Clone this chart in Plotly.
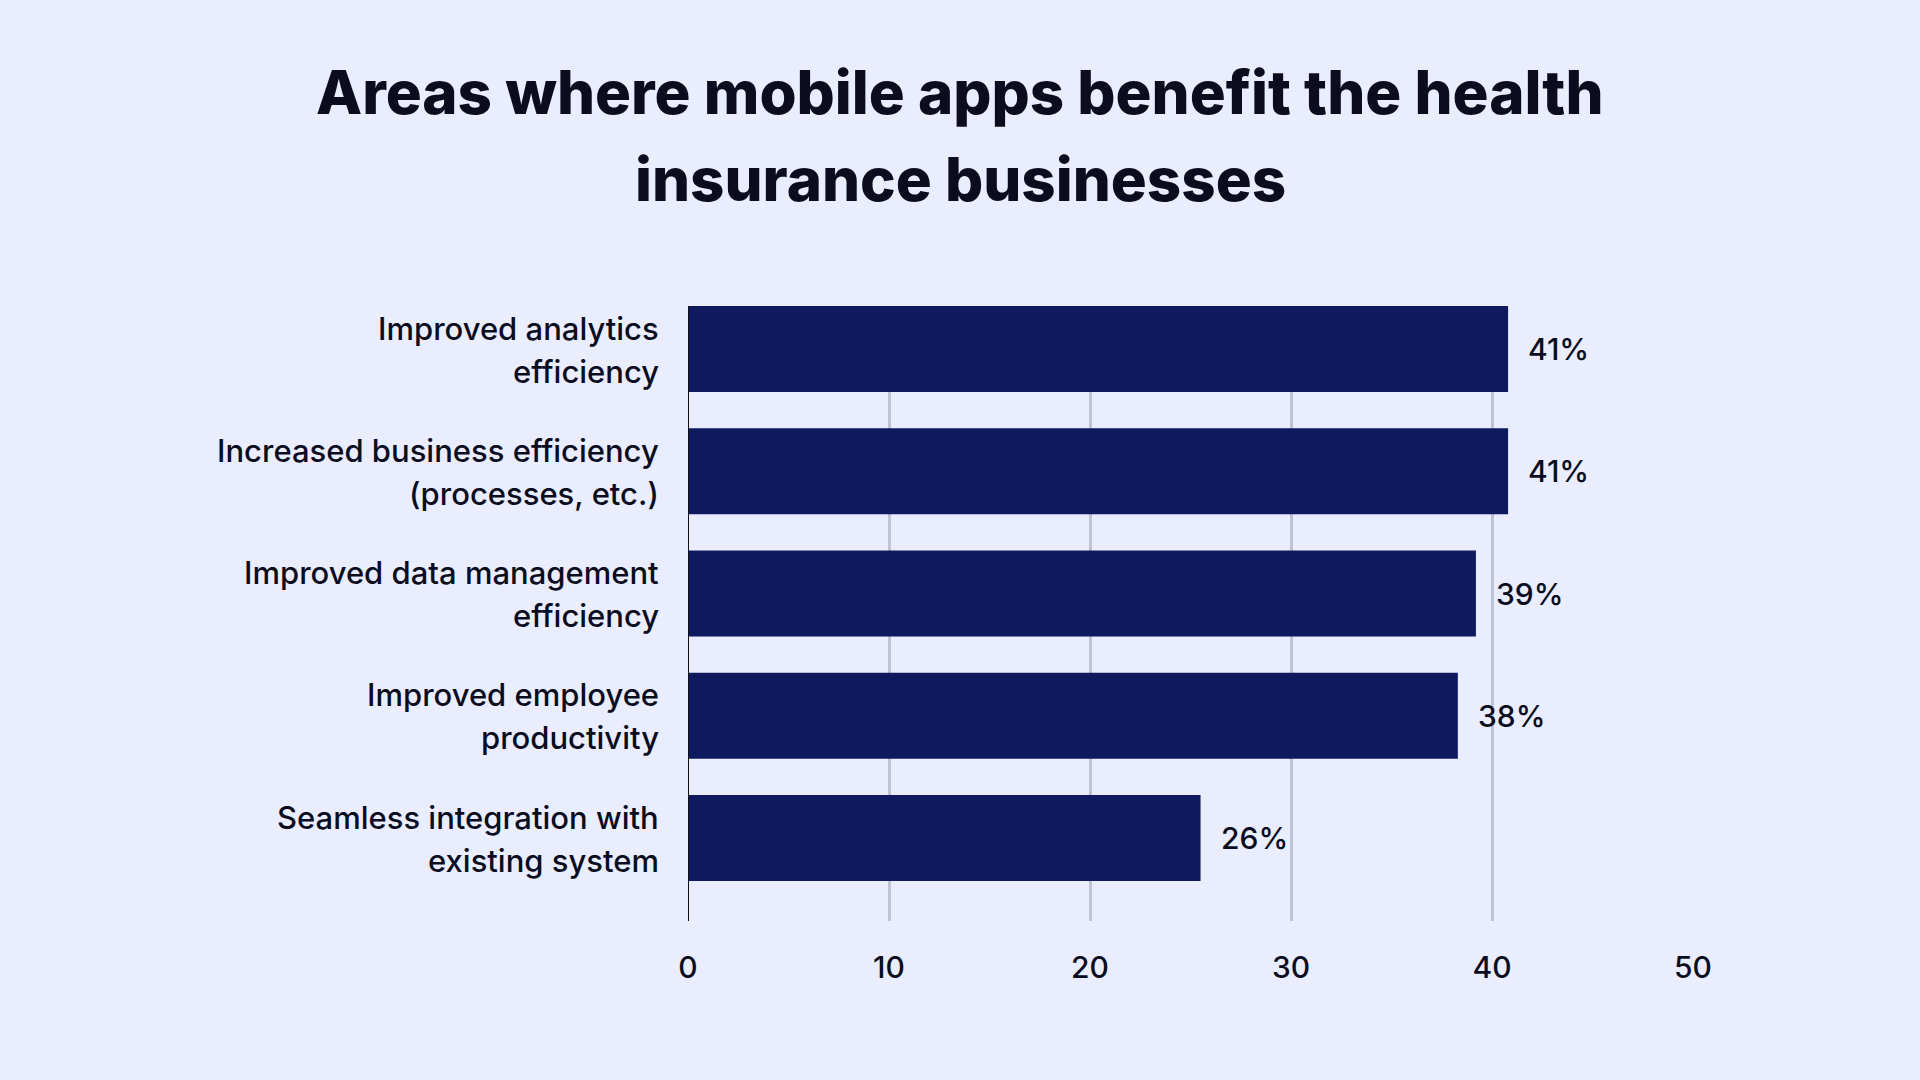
import plotly.graph_objects as go

# ---- data ----
categories = [
    "Improved analytics<br>efficiency",
    "Increased business efficiency<br>(processes, etc.)",
    "Improved data management<br>efficiency",
    "Improved employee<br>productivity",
    "Seamless integration with<br>existing system",
]
values = [40.8, 40.8, 39.2, 38.3, 25.5]
value_labels = ["41%", "41%", "39%", "38%", "26%"]
x_ticks = [0, 10, 20, 30, 40, 50]
title_lines = ["Areas where mobile apps benefit the health", "insurance businesses"]

BG = "#E9EDFD"
BAR = "#0E1A5D"
TEXT = "#0B0D1F"
GRID = "#BFC3D3"

idx = list(range(len(categories)))

L, R, T, B = 688, 226, 306, 159
PW = 1920 - L - R
PH = 1080 - T - B

fig = go.Figure()
fig.add_trace(go.Bar(
    x=values, y=idx, orientation="h",
    marker=dict(color=BAR, line=dict(width=0)),
    width=0.703,
    hoverinfo="skip",
))

annotations = []
# title (two lines, for control over line spacing), centred on the page
for ln, ypix in zip(title_lines, [92, 179]):
    annotations.append(dict(
        x=(960 - L) / PW, y=(1080 - B - ypix) / PH, xref="paper", yref="paper",
        text=ln, showarrow=False, xanchor="center", yanchor="middle",
        font=dict(family="Inter", size=60, color=TEXT, weight=800),
    ))
for i, (v, lab) in enumerate(zip(values, value_labels)):
    annotations.append(dict(
        x=v, y=i, xref="x", yref="y", text=lab, showarrow=False,
        xanchor="left", yanchor="middle", xshift=18,
        font=dict(family="Inter", size=30, color=TEXT, weight=500),
    ))
for i, cat in enumerate(categories):
    lines = cat.split("<br>")
    for j, ln in enumerate(lines):
        annotations.append(dict(
            x=0, y=i, xref="paper", yref="y", text=ln, showarrow=False,
            xanchor="right", yanchor="middle", xshift=-27,
            yshift=(21 if j == 0 else -22),
            font=dict(family="Inter", size=31, color=TEXT, weight=500),
        ))

fig.update_layout(
    width=1920, height=1080,
    paper_bgcolor=BG, plot_bgcolor=BG,
    margin=dict(l=L, r=R, t=T, b=B),
    showlegend=False,
    annotations=annotations,
    xaxis=dict(
        range=[0, 50.05], tickvals=x_ticks, showgrid=True, gridcolor=GRID,
        gridwidth=2.5, zeroline=False, showline=False, ticks="",
        ticklabelstandoff=26,
        tickfont=dict(family="Inter", size=30, color=TEXT, weight=500),
        fixedrange=True,
    ),
    yaxis=dict(
        range=[4.679, -0.352], showticklabels=False, showgrid=False,
        zeroline=False, showline=False, ticks="", fixedrange=True,
    ),
    shapes=[dict(type="line", xref="x", yref="paper", x0=0, x1=0, y0=0, y1=1,
                 line=dict(color="#111111", width=2))],
    bargap=0.3,
)

fig.write_html("out.html")
